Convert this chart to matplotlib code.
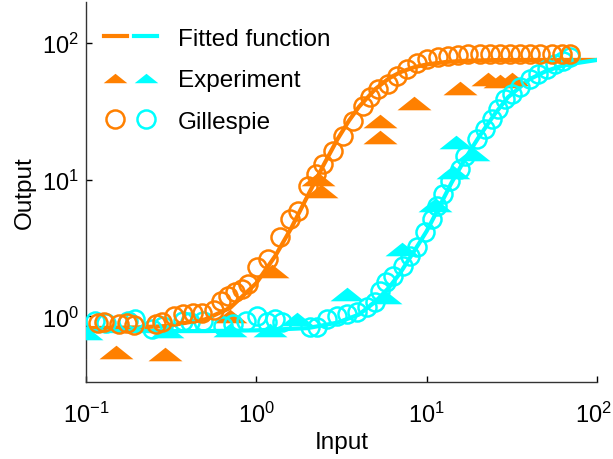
import numpy as np
import matplotlib
matplotlib.use('Agg')
from matplotlib import pyplot as plt
from matplotlib.lines import Line2D
from matplotlib.legend_handler import HandlerTuple
from matplotlib.transforms import ScaledTranslation

plt.rcParams['font.family'] = ['Liberation Sans', 'DejaVu Sans']
plt.rcParams['mathtext.fontset'] = 'custom'
plt.rcParams['mathtext.rm'] = 'Liberation Sans'
plt.rcParams['mathtext.it'] = 'Liberation Sans:italic'

ORANGE = '#ff8000'
CYAN = '#00ffff'

# fitted curves
fit_orange_x = [0.1, 0.2, 0.3, 0.5, 0.7, 1.0, 1.3, 1.6, 2.0, 2.5, 3.0, 3.5, 4.0,
                5.0, 6.0, 7.0, 8.5, 10, 13, 17, 25, 40, 100]
fit_orange_y = [0.82, 0.83, 0.85, 0.95, 1.15, 1.75, 2.8, 4.4, 7.6, 13.0, 19.8, 27,
                34, 46, 55, 61, 66.5, 69.5, 72.5, 74, 74.8, 75, 75]
fit_cyan_x = [0.1, 0.5, 1.0, 2.0, 3.0, 4.0, 5.0, 6.0, 7.0, 8.0, 9.0, 10, 12, 14,
              17, 20, 25, 30, 40, 50, 60, 70, 100]
fit_cyan_y = [0.78, 0.78, 0.79, 0.82, 0.9, 1.03, 1.28, 1.62, 2.08, 2.7, 3.4, 4.2,
              6.5, 9.5, 14.5, 20, 30, 40, 54, 62, 67, 70, 75]

# experiment (triangles)
exp_orange_x = [0.08, 0.15, 0.29, 0.70, 1.24, 2.3, 2.4, 5.3, 5.3, 8.4, 15.7, 23,
                27, 31.8]
exp_orange_y = [0.55, 0.55, 0.53, 1.0, 2.15, 10.1, 8.3, 26.8, 20.5, 36.4, 46.9,
                54.6, 52.7, 54.6]
exp_cyan_x = [0.1, 0.3, 0.7, 1.2, 1.73, 3.4, 5.7, 7.2, 11.2, 14.3, 14.9, 18.7]
exp_cyan_y = [0.75, 0.78, 0.8, 0.8, 0.95, 1.45, 1.38, 3.1, 6.5, 11.4, 18.9, 15.4]

# Gillespie simulation (circles)
gil_orange_x = [0.1175, 0.128, 0.156, 0.174, 0.191, 0.258, 0.279, 0.329, 0.371,
                0.425, 0.480, 0.565, 0.621, 0.683, 0.750, 0.824, 0.894, 1.01,
                1.17, 1.38, 1.58, 1.76, 2.01, 2.24, 2.47, 2.82, 3.23, 3.70, 4.24,
                4.66, 5.19, 5.94, 6.70, 7.67, 8.78, 10.1, 11.7, 13.4, 15.3, 17.5,
                20.6, 23.6, 27.0, 30.9, 35.3, 40.5, 46.3, 54.5, 62.3, 69.5]
gil_orange_y = [0.895, 0.91, 0.88, 0.895, 0.865, 0.88, 0.91, 1.01, 1.04, 1.06,
                1.06, 1.11, 1.30, 1.41, 1.51, 1.59, 1.73, 2.30, 2.63, 3.81, 5.16,
                5.91, 9.0, 11.0, 13.0, 16.2, 20.9, 26.9, 34.6, 40.3, 46.1, 50.2,
                57.4, 64.6, 71.4, 76.4, 79.0, 80.3, 81.7, 83.1, 83.1, 83.1, 83.1,
                83.1, 83.1, 83.1, 83.1, 83.1, 83.1, 83.1]
gil_cyan_x = [0.113, 0.131, 0.177, 0.194, 0.244, 0.283, 0.371, 0.408, 0.486,
              0.637, 0.729, 0.871, 1.01, 1.16, 1.29, 1.42, 2.07, 2.27, 2.60, 2.98,
              3.41, 3.90, 4.47, 4.98, 5.33, 5.78, 6.35, 7.27, 7.99, 8.78, 9.79,
              10.8, 11.5, 12.5, 13.7, 15.7, 16.8, 19.8, 22.0, 24.2, 26.2, 28.9,
              31.7, 35.3, 40.5, 45.1, 50.9, 56.7, 63.2, 69.5]
gil_cyan_y = [0.925, 0.895, 0.925, 0.957, 0.81, 0.851, 0.925, 0.91, 0.925, 0.851,
              0.88, 0.925, 1.01, 0.91, 0.957, 0.91, 0.836, 0.836, 0.957, 1.01,
              1.04, 1.08, 1.17, 1.27, 1.53, 1.79, 1.98, 2.34, 2.77, 3.22, 4.15,
              5.16, 6.43, 7.86, 9.78, 12.0, 14.9, 19.8, 23.5, 27.8, 32.9, 38.9,
              42.4, 47.6, 54.6, 59.3, 64.6, 70.2, 73.8, 79.0]

# flat wide triangle marker
tri = [(-1, -0.4), (1, -0.4), (0, 0.4)]

fig = plt.figure(figsize=(6.13, 4.6), dpi=100)
ax = fig.add_axes([0.1403, 0.1674, 0.8336, 0.8261])

ax.plot(fit_orange_x, fit_orange_y, color=ORANGE, lw=3, zorder=2)
ax.plot(fit_cyan_x, fit_cyan_y, color=CYAN, lw=3, zorder=2)
ax.plot(exp_orange_x, exp_orange_y, ls='none', marker=tri, ms=24.5,
        color=ORANGE, mec='none', zorder=3)
ax.plot(exp_cyan_x, exp_cyan_y, ls='none', marker=tri, ms=24.5,
        color=CYAN, mec='none', zorder=3)
ax.plot(gil_cyan_x, gil_cyan_y, ls='none', marker='o', ms=13, mfc='none',
        mec=CYAN, mew=1.8, zorder=4)
ax.plot(gil_orange_x, gil_orange_y, ls='none', marker='o', ms=13, mfc='none',
        mec=ORANGE, mew=1.8, zorder=4)

ax.set_xscale('log')
ax.set_yscale('log')
ax.set_xlim(0.1, 100)
ax.set_ylim(0.331, 199)
ax.minorticks_off()
ax.set_xticks([0.1, 1, 10, 100])
ax.set_yticks([1, 10, 100])
ax.tick_params(direction='in', length=4, width=1, labelsize=17)
ax.tick_params(axis='x', pad=14)
ax.tick_params(axis='y', pad=5)
for s in ['top', 'right']:
    ax.spines[s].set_visible(False)
for s in ['left', 'bottom']:
    ax.spines[s].set_linewidth(1.0)
    ax.spines[s].set_color('#333333')

# last x label sits on the right edge, nudge it in a little
lbl = ax.get_xticklabels()[-1]
lbl.set_transform(lbl.get_transform() + ScaledTranslation(-4 / 100, 0, fig.dpi_scale_trans))

ax.set_xlabel('Input', fontsize=17.5, labelpad=3)
ax.set_ylabel('Output', fontsize=17.5, labelpad=4.5)

h_fit = (Line2D([], [], color=ORANGE, lw=3), Line2D([], [], color=CYAN, lw=3))
h_exp = (Line2D([], [], ls='none', marker=tri, ms=17, color=ORANGE, mec='none'),
         Line2D([], [], ls='none', marker=tri, ms=17, color=CYAN, mec='none'))
h_gil = (Line2D([], [], ls='none', marker='o', ms=13, mfc='none', mec=ORANGE, mew=1.8),
         Line2D([], [], ls='none', marker='o', ms=13, mfc='none', mec=CYAN, mew=1.8))
ax.legend([h_fit, h_exp, h_gil], ['Fitted function', 'Experiment', 'Gillespie'],
          handler_map={tuple: HandlerTuple(ndivide=None, pad=0.3)},
          loc='upper left', bbox_to_anchor=(0.035, 0.932), frameon=False,
          fontsize=17.5, handlelength=2.2, handletextpad=0.85, labelspacing=0.8,
          borderpad=0, borderaxespad=0)

fig.savefig('out.png', dpi=100)
